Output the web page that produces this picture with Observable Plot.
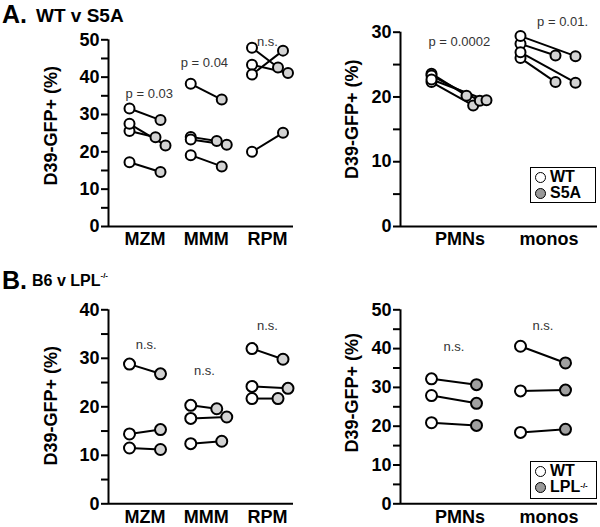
<!DOCTYPE html>
<html><head><meta charset="utf-8">
<script src="https://cdn.jsdelivr.net/npm/d3@7"></script>
<script src="https://cdn.jsdelivr.net/npm/@observablehq/plot@0.6"></script>
<style>
body{margin:0;background:#fff;font-family:"Liberation Sans",Arial,sans-serif;}
#root{position:relative;width:600px;height:527px;overflow:hidden;background:#fff;}
.panel{position:absolute;}
.ttl{position:absolute;font-weight:bold;color:#000;white-space:nowrap;line-height:1;}
.legend{position:absolute;box-sizing:border-box;border:1.5px solid #000;background:#fff;padding:1px 0 0 4px;}
.legend .row{display:flex;align-items:center;height:16px;font-weight:bold;font-size:16px;line-height:1;}
.legend .sw{display:inline-block;box-sizing:border-box;width:11px;height:11px;border-radius:50%;border:1.5px solid #000;margin-right:4px;}
sup{font-size:0.5em;vertical-align:top;position:relative;top:-1px;}
</style></head><body><div id="root"></div>
<script>
// ---------------- data ----------------
const spleenCats = ["MZM", "MMM", "RPM"];
const bloodCats = ["PMNs", "monos"];
const yTitle = "D39-GFP+ (%)";

// Panel A (WT v S5A), spleen macrophages: one entry per paired sample
const aSpleenCategory = ["MZM","MZM","MZM","MZM","MMM","MMM","MMM","MMM","RPM","RPM","RPM","RPM"];
const aSpleenWT  = [31.6, 25.6, 27.5, 17.2, 38.2, 24.0, 23.3, 19.1, 47.9, 43.3, 40.7, 20.0];
const aSpleenS5A = [28.5, 23.9, 21.7, 14.6, 34.0, 22.9, 21.9, 16.1, 42.6, 41.1, 47.1, 25.1];
const aSpleenNoteText = ["p = 0.03", "p = 0.04", "n.s."];
const aSpleenNoteX = [0.07, 0.97, 2.0];
const aSpleenNoteY = [34.5, 42.8, 48.4];
const aSpleenTicks = [0, 10, 20, 30, 40, 50];
const aSpleenMinor = [5, 15, 25, 35, 45];

// Panel A, blood cells
const aBloodCategory = ["PMNs","PMNs","PMNs","PMNs","monos","monos","monos","monos"];
const aBloodWT  = [23.6, 22.3, 23.3, 22.7, 28.2, 29.4, 26.0, 26.9];
const aBloodS5A = [20.2, 18.7, 19.4, 19.5, 26.4, 26.3, 22.3, 22.2];
const aBloodNoteText = ["p = 0.0002", "p = 0.01."];
const aBloodNoteX = [0.06, 1.22];
const aBloodNoteY = [27.9, 31.0];
const aBloodTicks = [0, 10, 20, 30];
const aBloodMinor = [5, 15, 25];

// Panel B (B6 v LPL-/-), spleen macrophages
const bSpleenCategory = ["MZM","MZM","MZM","MMM","MMM","MMM","RPM","RPM","RPM"];
const bSpleenB6  = [28.8, 14.4, 11.5, 20.3, 17.6, 12.4, 32.0, 21.7, 24.2];
const bSpleenLPL = [26.8, 15.3, 11.2, 19.6, 17.9, 12.9, 29.8, 21.7, 23.8];
const bSpleenNoteText = ["n.s.", "n.s.", "n.s."];
const bSpleenNoteX = [0.02, 0.97, 2.0];
const bSpleenNoteY = [32.0, 26.5, 35.8];
const bSpleenTicks = [0, 10, 20, 30, 40];
const bSpleenMinor = [5, 15, 25, 35];

// Panel B, blood cells
const bBloodCategory = ["PMNs","PMNs","PMNs","monos","monos","monos"];
const bBloodB6  = [32.2, 27.9, 20.9, 40.6, 29.1, 18.4];
const bBloodLPL = [30.7, 25.9, 20.2, 36.3, 29.3, 19.2];
const bBloodNoteText = ["n.s.", "n.s."];
const bBloodNoteX = [0.0, 1.0];
const bBloodNoteY = [39.5, 44.7];
const bBloodTicks = [0, 10, 20, 30, 40, 50];
const bBloodMinor = [5, 15, 25, 35, 45];

// ---------------- drawing ----------------
const FONT = "'Liberation Sans', Arial, Helvetica, sans-serif";
const root = document.getElementById("root");

// spread overlapping points of the second group sideways (row order sets left→right)
function dodge(values, cats, pxPerUnit, threshold, spread) {
  const off = values.map(() => 0);
  for (const c of new Set(cats)) {
    const idx = values.map((v, i) => i).filter(i => cats[i] === c)
      .sort((a, b) => values[b] - values[a]);
    let cluster = [];
    const flush = () => {
      if (cluster.length > 1) {
        const m = cluster.slice().sort((a, b) => a - b);
        m.forEach((i, k) => off[i] = (k / (m.length - 1) - 0.5) * spread);
      }
    };
    idx.forEach((i, j) => {
      if (j > 0 && (values[idx[j - 1]] - values[i]) * pxPerUnit < threshold) cluster.push(i);
      else { flush(); cluster = [i]; }
    });
    flush();
  }
  return off;
}

function panel(cfg, d) {
  const fl = cfg.marginLeft, fr = cfg.width - cfg.marginRight;
  const xDomain = [(fl - cfg.cat0) / cfg.step, (fr - cfg.cat0) / cfg.step];
  const yMax = d.ticks[d.ticks.length - 1];
  const pxPerUnit = (cfg.height - cfg.marginTop - cfg.marginBottom) / yMax;
  const off = dodge(d.mut, d.cat, pxPerUnit, 12, cfg.spread);
  const rows = d.wt.map((w, i) => {
    const ci = d.cats.indexOf(d.cat[i]);
    return {wt: w, mut: d.mut[i],
      xw: ci + cfg.wtOff / cfg.step,
      xm: ci + (cfg.mutOff + off[i]) / cfg.step};
  });
  const notes = d.noteText.map((t, i) => ({t, x: d.noteX[i], y: d.noteY[i]}));
  const allTicks = d.ticks.concat(d.minor).sort((a, b) => a - b);
  const plot = Plot.plot({
    width: cfg.width, height: cfg.height,
    marginLeft: cfg.marginLeft, marginRight: cfg.marginRight,
    marginTop: cfg.marginTop, marginBottom: cfg.marginBottom,
    style: {fontFamily: FONT, background: "transparent", overflow: "visible"},
    x: {domain: xDomain, axis: null},
    y: {domain: [0, yMax], axis: null},
    marks: [
      Plot.axisY({ticks: allTicks, tickFormat: v => d.ticks.includes(v) ? String(v) : "",
        tickSize: 7, tickPadding: 2, strokeWidth: 2, fontSize: 18, fontWeight: "bold",
        fill: "#000", label: null}),
      Plot.axisX({ticks: d.cats.map((c, i) => i), tickFormat: i => d.cats[i],
        tickSize: 0, tickPadding: cfg.catPad, fontSize: 18, fontWeight: "bold",
        fill: "#000", dx: cfg.catDx, label: null}),
      Plot.ruleY([0], {strokeWidth: 2}),
      Plot.ruleX([xDomain[0]], {strokeWidth: 2}),
      Plot.text([yTitle], {frameAnchor: "left", textAnchor: "middle", rotate: -90, text: t => t,
        dx: cfg.titleDx, dy: cfg.titleDy, fontSize: 18, fontWeight: "bold", fill: "#000"}),
      Plot.link(rows, {x1: "xw", y1: "wt", x2: "xm", y2: "mut", stroke: "#000", strokeWidth: 2}),
      Plot.dot(rows, {x: "xw", y: "wt", r: cfg.r, fill: "#fff", stroke: "#000", strokeWidth: 2}),
      Plot.dot(rows, {x: "xm", y: "mut", r: cfg.r, fill: cfg.mutFill, stroke: "#000", strokeWidth: 2}),
      Plot.text(notes, {x: "x", y: "y", text: "t", fontSize: 13, fill: "#333", lineAnchor: "bottom"})
    ]
  });
  plot.classList.add("panel");
  plot.style.left = cfg.left + "px";
  plot.style.top = cfg.top + "px";
  root.appendChild(plot);
}

const spleenGeom = {width: 300, marginLeft: 108, marginRight: 7, cat0: 144.5, step: 61.25,
  wtOff: -15.5, mutOff: 15.5, spread: 10, catDx: 0, titleDx: -57.5};
const bloodGeom = {width: 300, marginLeft: 100, marginRight: 3, cat0: 153.5, step: 89,
  wtOff: -22.5, mutOff: 22.5, spread: 20, catDx: 6, titleDx: -48};

panel({...spleenGeom, left: 0, top: 0, height: 260, marginTop: 39.3, marginBottom: 34,
  r: 5, mutFill: "#d3d3d3", catPad: 6, titleDy: -7.5},
  {cats: spleenCats, cat: aSpleenCategory, wt: aSpleenWT, mut: aSpleenS5A,
   noteText: aSpleenNoteText, noteX: aSpleenNoteX, noteY: aSpleenNoteY,
   ticks: aSpleenTicks, minor: aSpleenMinor});
panel({...bloodGeom, left: 300, top: 0, height: 260, marginTop: 31.7, marginBottom: 34,
  r: 5, mutFill: "#d3d3d3", catPad: 6, titleDy: -10},
  {cats: bloodCats, cat: aBloodCategory, wt: aBloodWT, mut: aBloodS5A,
   noteText: aBloodNoteText, noteX: aBloodNoteX, noteY: aBloodNoteY,
   ticks: aBloodTicks, minor: aBloodMinor});
panel({...spleenGeom, left: 0, top: 260, height: 267, marginTop: 49.3, marginBottom: 23.7,
  r: 5.5, mutFill: "#d3d3d3", catPad: 6, titleDy: -1},
  {cats: spleenCats, cat: bSpleenCategory, wt: bSpleenB6, mut: bSpleenLPL,
   noteText: bSpleenNoteText, noteX: bSpleenNoteX, noteY: bSpleenNoteY,
   ticks: bSpleenTicks, minor: bSpleenMinor});
panel({...bloodGeom, left: 300, top: 260, height: 267, marginTop: 49.3, marginBottom: 23.7,
  r: 5.5, mutFill: "#a0a0a0", catPad: 6, titleDy: -14},
  {cats: bloodCats, cat: bBloodCategory, wt: bBloodB6, mut: bBloodLPL,
   noteText: bBloodNoteText, noteX: bBloodNoteX, noteY: bBloodNoteY,
   ticks: bBloodTicks, minor: bBloodMinor});

// titles and legends
function addHTML(html) { root.insertAdjacentHTML("beforeend", html); }
addHTML(`<div class="ttl" style="left:2px;top:2px;font-size:25px">A.</div>`);
addHTML(`<div class="ttl" style="left:36px;top:6px;font-size:19px">WT v S5A</div>`);
addHTML(`<div class="ttl" style="left:2px;top:268px;font-size:25px">B.</div>`);
addHTML(`<div class="ttl" style="left:32px;top:273px;font-size:16px">B6 v LPL<sup>-/-</sup></div>`);
addHTML(`<div class="legend" style="left:530px;top:167px;width:66px;height:36px">
  <div class="row"><span class="sw" style="background:#fff"></span>WT</div>
  <div class="row"><span class="sw" style="background:#999"></span>S5A</div></div>`);
addHTML(`<div class="legend" style="left:530px;top:461px;width:67px;height:38px">
  <div class="row"><span class="sw" style="background:#fff"></span>WT</div>
  <div class="row"><span class="sw" style="background:#999"></span>LPL<sup>-/-</sup></div></div>`);
</script></body></html>
